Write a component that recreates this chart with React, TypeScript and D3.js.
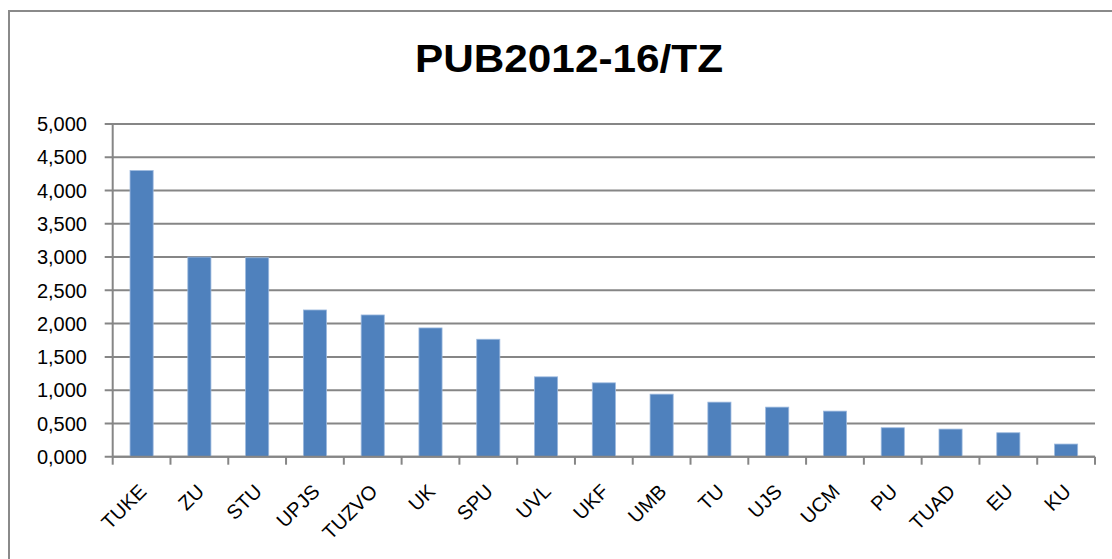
import React from 'react';
import * as d3 from 'd3';

// PUB2012-16/TZ per university
const categories = ['TUKE', 'ZU', 'STU', 'UPJS', 'TUZVO', 'UK', 'SPU', 'UVL', 'UKF', 'UMB', 'TU', 'UJS', 'UCM', 'PU', 'TUAD', 'EU', 'KU'];
const values = [4.3, 3.0, 2.99, 2.205, 2.13, 1.935, 1.765, 1.2, 1.11, 0.94, 0.82, 0.745, 0.685, 0.435, 0.415, 0.36, 0.19];
const yTicks = [0, 0.5, 1, 1.5, 2, 2.5, 3, 3.5, 4, 4.5, 5];
const title = 'PUB2012-16/TZ';

const width = 1112;
const height = 559;
const left = 112.7, right = 1095, top = 124, bottom = 456.7;
const gridColor = '#868686';
const font = '"Liberation Sans", Arial, sans-serif';

const skFormat = d3.formatLocale({ decimal: ',', thousands: ' ', grouping: [3], currency: ['', ''] }).format('.3f');

export default function App() {
  const x = d3.scaleBand<string>().domain(categories).range([left, right]).paddingInner(0.6).paddingOuter(0.3);
  const y = d3.scaleLinear().domain([0, 5]).range([bottom, top]);
  const step = x.step();
  const bounds = d3.range(categories.length + 1).map(i => left + i * step);

  return (
    <svg width={width} height={height} style={{ position: 'absolute', left: 0, top: 0, background: '#fff' }}>
      {/* chart frame */}
      <path d={`M9,${height + 5} V11 H${width + 5}`} fill="none" stroke="#8a8a8a" strokeWidth={2} />

      <text x={569} y={72} textAnchor="middle" fontFamily={font} fontWeight="bold" fontSize={38}
        textLength={308} lengthAdjust="spacingAndGlyphs" fill="#000">{title}</text>

      {/* grid + y axis */}
      {yTicks.map(t => (
        <g key={t}>
          <line x1={left - 8} x2={right} y1={y(t)} y2={y(t)} stroke={gridColor} strokeWidth={2} />
          <text x={87} y={y(t)} dy="0.36em" textAnchor="end" fontFamily={font} fontSize={20} fill="#000">{skFormat(t)}</text>
        </g>
      ))}
      <line x1={left} x2={left} y1={top} y2={bottom} stroke={gridColor} strokeWidth={2} />

      {/* bars */}
      {categories.map((c, i) => (
        <rect key={c} x={x(c)} y={y(values[i])} width={x.bandwidth()} height={bottom - y(values[i])}
          fill="#4f81bd" stroke="#9cb9de" strokeWidth={0.8} />
      ))}

      {/* x axis */}
      <line x1={left} x2={right} y1={bottom} y2={bottom} stroke={gridColor} strokeWidth={2} />
      {bounds.map((b, i) => (
        <line key={i} x1={b} x2={b} y1={bottom} y2={bottom + 8} stroke={gridColor} strokeWidth={2} />
      ))}
      {categories.map(c => {
        const cx = (x(c) as number) + x.bandwidth() / 2;
        return (
          <text key={c} transform={`translate(${cx + 6},${bottom + 36}) rotate(-45)`} textAnchor="end"
            fontFamily={font} fontSize={20} fill="#000">{c}</text>
        );
      })}
    </svg>
  );
}
